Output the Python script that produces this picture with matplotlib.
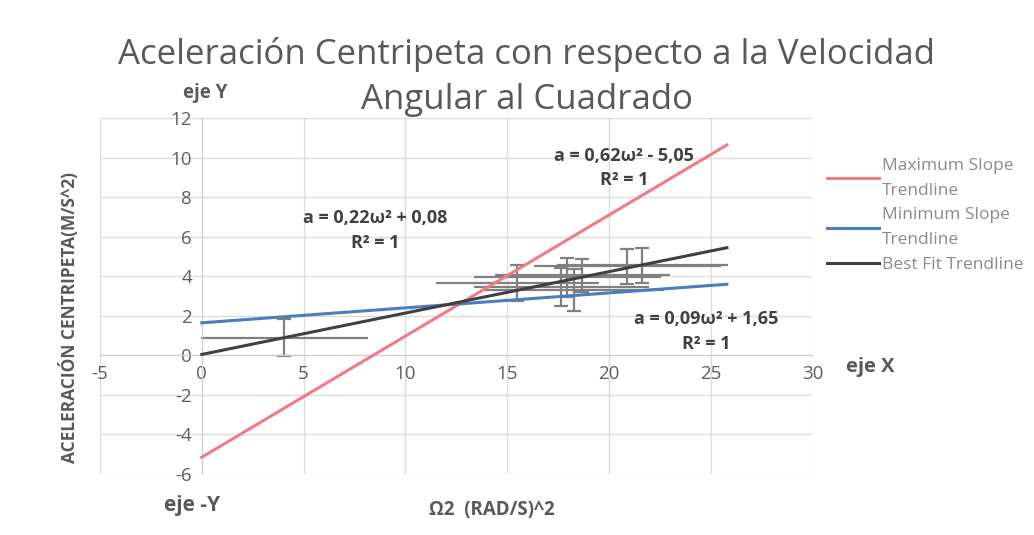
import matplotlib
matplotlib.use("Agg")
import matplotlib.pyplot as plt
from matplotlib.lines import Line2D

plt.rcParams['font.family'] = ['Open Sans', 'DejaVu Sans']
plt.rcParams['axes.unicode_minus'] = False

# measured points (omega^2, a) with their error bars
omega2 = [4.05, 15.5, 17.65, 17.95, 18.3, 18.7, 20.9, 21.65]
accel = [0.9, 3.67, 3.45, 3.95, 3.3, 4.05, 4.5, 4.55]
omega2_err = [4.1, 4.0, 4.3, 4.6, 4.4, 4.3, 4.6, 4.2]
accel_err = [0.95, 0.9, 0.95, 1.0, 1.05, 0.85, 0.9, 0.9]

# trendlines as drawn (start and end points)
max_x = [0, 25.8]
max_y = [-5.15, 10.65]
min_x = [0, 25.8]
min_y = [1.65, 3.6]
best_x = [0, 25.8]
best_y = [0.05, 5.45]

eq_max = ["a = 0,62ω² - 5,05", "R² = 1"]
eq_best = ["a = 0,22ω² + 0,08", "R² = 1"]
eq_min = ["a = 0,09ω² + 1,65", "R² = 1"]

legend_labels = ["Maximum Slope\nTrendline", "Minimum Slope\nTrendline", "Best Fit Trendline"]

RED = "#f07c82"
BLUE = "#4a7ebb"
DARK = "#404040"
GRAY = "#595959"

fig = plt.figure(figsize=(10.34, 5.35), dpi=100)
ax = fig.add_axes([0.0967, 0.114, 0.689, 0.665])

ax.set_xlim(-5, 30)
ax.set_ylim(-6, 12)
ax.set_xticks(range(-5, 31, 5))
ax.set_yticks(range(-6, 13, 2))
ax.grid(True, color="#dcdcdc", linewidth=1)
ax.set_axisbelow(True)

for side in ["top", "right"]:
    ax.spines[side].set_visible(False)
ax.spines["left"].set_position(("data", 0))
ax.spines["bottom"].set_position(("data", 0))
for side in ["left", "bottom"]:
    ax.spines[side].set_color("#d0d0d0")
ax.tick_params(length=0, labelsize=13.5, labelcolor="#5e5e5e", pad=7)

ax.plot(max_x, max_y, color=RED, lw=2.2, zorder=3)
ax.plot(min_x, min_y, color=BLUE, lw=2.2, zorder=3)
ax.plot(best_x, best_y, color=DARK, lw=2.2, zorder=3)

# horizontal bars have no visible caps, vertical ones do
ax.errorbar(omega2, accel, xerr=omega2_err, fmt="none",
            ecolor="#808080", elinewidth=1.6, capsize=0, zorder=2)
ax.errorbar(omega2, accel, yerr=accel_err, fmt="none",
            ecolor="#808080", elinewidth=1.6, capsize=5, capthick=1.6, zorder=2)

# trendline equations
eq_style = dict(ha="center", va="center", fontsize=13, fontweight="bold", color=DARK)
ax.text(20.75, 10.1, eq_max[0], **eq_style)
ax.text(20.75, 8.85, eq_max[1], **eq_style)
ax.text(8.5, 6.95, eq_best[0], **eq_style)
ax.text(8.5, 5.7, eq_best[1], **eq_style)
ax.text(24.8, 1.85, eq_min[0], **eq_style)
ax.text(24.8, 0.6, eq_min[1], **eq_style)

ax.set_ylabel("ACELERACIÓN CENTRIPETA(M/S^2)", fontsize=12.5, fontweight="bold", color=GRAY)
ax.yaxis.set_label_coords(-0.03, 0.44)

fig.text(492 / 1034, 1 - 510 / 535, "Ω2  (RAD/S)^2", ha="center", va="center",
         fontsize=13.5, fontweight="bold", color=GRAY)

fig.text(527 / 1034, 1 - 55 / 535, "Aceleración Centripeta con respecto a la Velocidad",
         ha="center", va="center", fontsize=25, color=GRAY)
fig.text(527 / 1034, 1 - 100 / 535, "Angular al Cuadrado",
         ha="center", va="center", fontsize=25, color=GRAY)

fig.text(205 / 1034, 1 - 93 / 535, "eje Y", ha="center", va="center",
         fontsize=13.5, fontweight="bold", color=GRAY)
fig.text(870 / 1034, 1 - 367 / 535, "eje X", ha="center", va="center",
         fontsize=14.5, fontweight="bold", color=GRAY)
fig.text(192 / 1034, 1 - 505 / 535, "eje -Y", ha="center", va="center",
         fontsize=15, fontweight="bold", color=GRAY)

handles = [Line2D([], [], color=RED, lw=2.2),
           Line2D([], [], color=BLUE, lw=2.2),
           Line2D([], [], color=DARK, lw=2.2)]
leg = fig.legend(handles, legend_labels, loc="upper left",
                 bbox_to_anchor=(811 / 1034, 1 - 142 / 535), frameon=False,
                 fontsize=12.5, labelcolor="#8a8a8a", handlelength=3.0,
                 handletextpad=0.2, labelspacing=0.5)
for t in leg.get_texts():
    t.set_linespacing(1.75)

fig.savefig("out.png", dpi=100)
